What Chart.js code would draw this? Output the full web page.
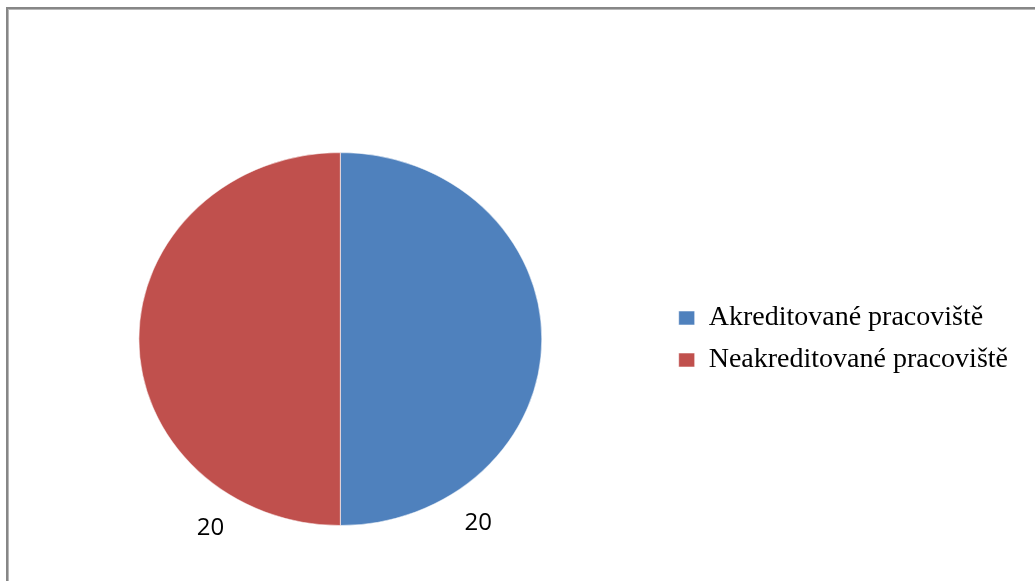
<!DOCTYPE html>
<html>
<head>
<meta charset="utf-8">
<script src="https://cdn.jsdelivr.net/npm/chart.js@4/dist/chart.umd.min.js"></script>
<style>
  html, body { margin: 0; padding: 0; background: #fff; overflow: hidden; }
  #wrap { position: relative; width: 1035px; height: 581px; }
  #frame {
    position: absolute; left: 6px; top: 7px; width: 1100px; height: 700px;
    border-left: 2px solid #878787; border-top: 2px solid #878787;
    box-shadow: inset 1px 1px 0 #b8b8b8;
    pointer-events: none;
  }
  canvas { position: absolute; left: 0; top: 0; }
</style>
</head>
<body>
<div id="wrap">
  <canvas id="c" width="1035" height="581"></canvas>
  <div id="frame"></div>
</div>
<script>
// Workplaces by accreditation status
const categories = ['Akreditované pracoviště', 'Neakreditované pracoviště'];
const counts = [20, 20];
const sliceColors = ['#4F81BD', '#C0504D'];

// Slightly widen the pie horizontally
const X_STRETCH = 202 / 187;

const stretchPie = {
  id: 'stretchPie',
  beforeDatasetsDraw(chart) {
    const arc = chart.getDatasetMeta(0).data[0];
    const ctx = chart.ctx;
    ctx.save();
    ctx.translate(arc.x, arc.y);
    ctx.scale(X_STRETCH, 1);
    ctx.translate(-arc.x, -arc.y);
  },
  afterDatasetsDraw(chart) {
    chart.ctx.restore();
  }
};

// Value labels placed outside the lower part of each slice
const valueLabels = {
  id: 'valueLabels',
  afterDatasetsDraw(chart) {
    const ctx = chart.ctx;
    const meta = chart.getDatasetMeta(0);
    const values = chart.data.datasets[0].data;
    ctx.save();
    ctx.font = '24px "Open Sans", "Liberation Sans", sans-serif';
    ctx.fillStyle = '#000';
    ctx.textAlign = 'center';
    ctx.textBaseline = 'middle';
    meta.data.forEach((arc, i) => {
      const a = i === 0 ? arc.endAngle - 0.607 : arc.startAngle + 0.567;
      const r = arc.outerRadius * 1.2;
      const x = arc.x + Math.cos(a) * r * X_STRETCH;
      const y = arc.y + Math.sin(a) * r;
      ctx.fillText(String(values[i]), x, y);
    });
    ctx.restore();
  }
};

new Chart(document.getElementById('c'), {
  type: 'pie',
  data: {
    labels: categories,
    datasets: [{
      data: counts,
      backgroundColor: sliceColors,
      borderColor: 'rgba(255,255,255,0.55)',
      borderWidth: 1
    }]
  },
  options: {
    responsive: false,
    animation: false,
    events: [],
    layout: { padding: { left: 16, top: 152, bottom: 55, right: 17 } },
    plugins: {
      tooltip: { enabled: false },
      legend: {
        position: 'right',
        labels: {
          boxWidth: 16,
          boxHeight: 14,
          padding: 14,
          color: '#000',
          font: { family: '"Liberation Serif", "Times New Roman", serif', size: 28 }
        }
      }
    }
  },
  plugins: [stretchPie, valueLabels]
});
</script>
</body>
</html>
